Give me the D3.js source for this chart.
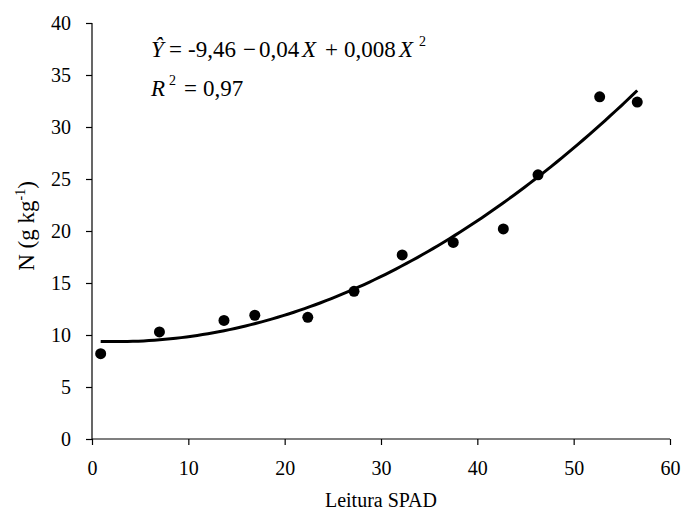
<!DOCTYPE html>
<html>
<head>
<meta charset="utf-8">
<script src="https://cdn.jsdelivr.net/npm/d3@7"></script>
<style>
  body { margin: 0; background: #fff; }
</style>
</head>
<body>
<svg width="683" height="515"></svg>
<script>
// SPAD readings and leaf N (g/kg)
const spad = [0.9, 7.0, 13.7, 16.9, 22.4, 27.2, 32.2, 37.5, 42.7, 46.3, 52.7, 56.6];
const nLeaf = [8.2, 10.3, 11.4, 11.9, 11.7, 14.2, 17.7, 18.9, 20.2, 25.4, 32.9, 32.4];
const xTicks = [0, 10, 20, 30, 40, 50, 60];
const yTicks = [0, 5, 10, 15, 20, 25, 30, 35, 40];
const serif = '"Liberation Serif", "Times New Roman", "DejaVu Serif", serif';

const svg = d3.select('svg');
const margin = { left: 92, right: 13, top: 23, bottom: 76 };
const width = +svg.attr('width') - margin.left - margin.right;
const height = +svg.attr('height') - margin.top - margin.bottom;

const x = d3.scaleLinear().domain([0, 60]).range([0, width]);
const y = d3.scaleLinear().domain([0, 40]).range([height, 0]);

const g = svg.append('g').attr('transform', `translate(${margin.left},${margin.top})`);

// quadratic least squares fit through the points
function quadFit(xs, ys) {
  const S = (f) => d3.sum(xs, (v, i) => f(v, ys[i]));
  const n = xs.length;
  const s1 = S(v => v), s2 = S(v => v * v), s3 = S(v => v ** 3), s4 = S(v => v ** 4);
  const t0 = S((v, w) => w), t1 = S((v, w) => v * w), t2 = S((v, w) => v * v * w);
  const A = [[n, s1, s2, t0], [s1, s2, s3, t1], [s2, s3, s4, t2]];
  for (let i = 0; i < 3; i++) {
    for (let k = i + 1; k < 3; k++) {
      const f = A[k][i] / A[i][i];
      for (let j = i; j < 4; j++) A[k][j] -= f * A[i][j];
    }
  }
  const c = [0, 0, 0];
  for (let i = 2; i >= 0; i--) {
    let s = A[i][3];
    for (let j = i + 1; j < 3; j++) s -= A[i][j] * c[j];
    c[i] = s / A[i][i];
  }
  return c;
}
const coef = quadFit(spad, nLeaf);
const fitY = (v) => coef[0] + coef[1] * v + coef[2] * v * v;

// axes
const xAxis = g.append('g')
  .attr('transform', `translate(0,${height})`)
  .call(d3.axisBottom(x).tickValues(xTicks).tickSize(6).tickPadding(4));
const yAxis = g.append('g')
  .call(d3.axisLeft(y).tickValues(yTicks).tickSize(6).tickPadding(15));

[xAxis, yAxis].forEach(a => {
  a.attr('font-family', null).attr('font-size', null);
  a.selectAll('path, line').attr('stroke', '#000').attr('stroke-width', 1.2);
  a.selectAll('text').style('font-size', '20px').attr('fill', '#000');
  a.select('.domain').attr('d', a === xAxis ? `M0,0H${width}` : `M0,0V${height}`);
});
xAxis.selectAll('text').attr('dy', '1.3em');

// fitted curve
const [x0, x1] = d3.extent(spad);
const curvePts = d3.range(x0, x1 + 0.001, (x1 - x0) / 100).map(v => [v, fitY(v)]);
g.append('path')
  .attr('d', d3.line().x(d => x(d[0])).y(d => y(d[1]))(curvePts))
  .attr('fill', 'none')
  .attr('stroke', '#000')
  .attr('stroke-width', 3);

// points
g.selectAll('circle.pt')
  .data(spad.map((v, i) => [v, nLeaf[i]]))
  .join('circle')
  .attr('class', 'pt')
  .attr('cx', d => x(d[0]))
  .attr('cy', d => y(d[1]))
  .attr('r', 5.5)
  .attr('fill', '#000');

// axis titles
svg.append('text')
  .attr('x', margin.left + width / 2)
  .attr('y', 507)
  .attr('text-anchor', 'middle')
  .style('font-size', '20px')
  .text('Leitura SPAD');

const yt = svg.append('text')
  .attr('transform', 'translate(34,226) rotate(-90)')
  .attr('text-anchor', 'middle')
  .style('font-size', '23px');
yt.append('tspan').text('N (g kg');
yt.append('tspan').attr('dy', -9).style('font-size', '14px').text('-1');
yt.append('tspan').attr('dy', 9).text(')');

// equation, pieces placed like the equation editor output
const eq = svg.append('text').attr('y', 57).style('font-size', '23px');
eq.append('tspan').attr('x', 151).style('font-style', 'italic').text('Ŷ');
eq.append('tspan').attr('x', 169).text('=');
eq.append('tspan').attr('x', 188).text('-9,46');
eq.append('tspan').attr('x', 243).text('−');
eq.append('tspan').attr('x', 259).text('0,04');
eq.append('tspan').attr('x', 302).style('font-style', 'italic').text('X');
eq.append('tspan').attr('x', 325).text('+');
eq.append('tspan').attr('x', 344).text('0,008');
eq.append('tspan').attr('x', 399).style('font-style', 'italic').text('X');
eq.append('tspan').attr('x', 419).attr('dy', -11).style('font-size', '14px').text('2');

const r2 = svg.append('text').attr('y', 96).style('font-size', '23px');
r2.append('tspan').attr('x', 151).style('font-style', 'italic').text('R');
r2.append('tspan').attr('x', 169).attr('dy', -11).style('font-size', '14px').text('2');
r2.append('tspan').attr('x', 184).attr('dy', 11).text('=');
r2.append('tspan').attr('x', 203).text('0,97');

svg.selectAll('text').style('font-family', serif).attr('fill', '#000');
</script>
</body>
</html>
